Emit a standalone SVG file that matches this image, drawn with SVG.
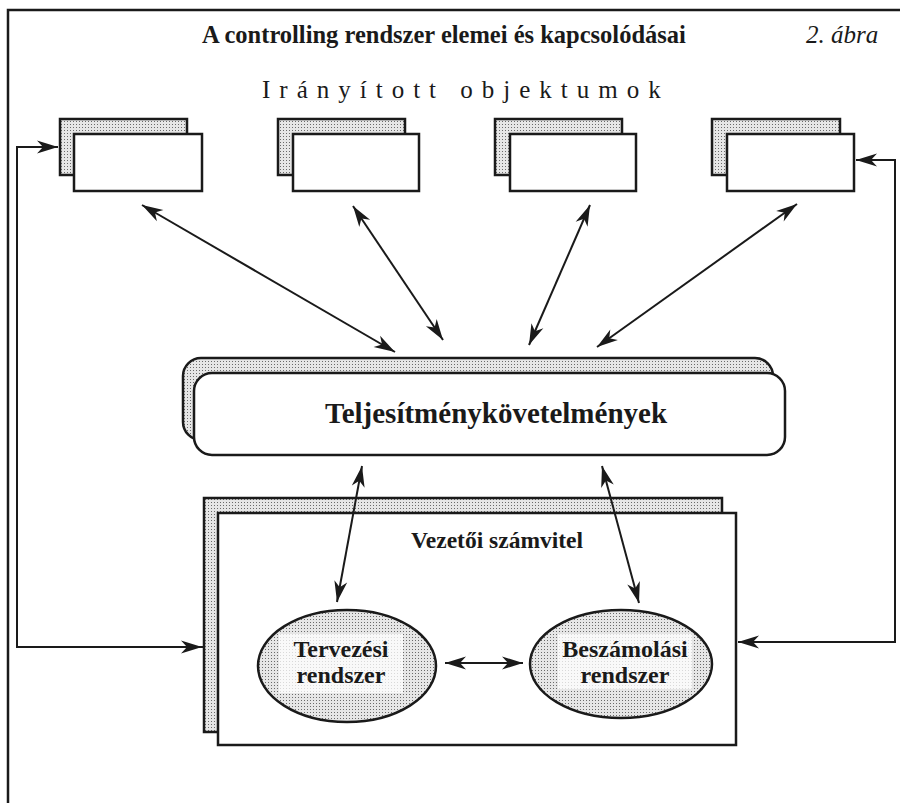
<svg xmlns="http://www.w3.org/2000/svg" width="900" height="803" viewBox="0 0 900 803">
  <defs>
    <!-- stippled grey used for the back sheets and the ellipses -->
    <pattern id="stip" width="3" height="3" patternUnits="userSpaceOnUse">
      <rect width="3" height="3" fill="#e6e6e6"/>
      <rect x="1" y="1" width="1" height="1" fill="#6a6a6a"/>
    </pattern>
    <marker id="ah" markerUnits="userSpaceOnUse" markerWidth="24" markerHeight="16" viewBox="-22 -8 24 16" refX="0" refY="0" orient="auto-start-reverse">
      <path d="M0,0 L-21,-6.5 L-15,0 L-21,6.5 Z" fill="#1a1a1a"/>
    </marker>
    <style>
      .back { fill: url(#stip); stroke: #1a1a1a; stroke-width: 2.5; }
      .front { fill: #ffffff; stroke: #1a1a1a; stroke-width: 2.5; }
      .oval { fill: url(#stip); stroke: #1a1a1a; stroke-width: 2.5; }
      .knock { fill: #ffffff; opacity: 0.75; }
      .conn { fill: none; stroke: #1a1a1a; stroke-width: 2; }
      .two { marker-start: url(#ah); marker-end: url(#ah); }
      .one { marker-end: url(#ah); }
      .serif { font-family: "Liberation Serif", "Times New Roman", serif; fill: #1a1a1a; }
      .b { font-weight: bold; }
    </style>
  </defs>

  <rect width="900" height="803" fill="#ffffff"/>

  <!-- open frame: top and left edges -->
  <path d="M8,803 V10 H900" fill="none" stroke="#1a1a1a" stroke-width="2.5"/>

  <!-- headings -->
  <g id="title">
    <text class="serif b" x="202" y="43" font-size="24.5">A controlling rendszer elemei és kapcsolódásai</text>
    <text class="serif" x="806" y="43" font-size="25" font-style="italic">2. ábra</text>
  </g>
  <g id="objects-label">
    <text class="serif" x="262" y="98" font-size="25" letter-spacing="9">Irányított objektumok</text>
  </g>

  <!-- controlled objects -->
  <g id="obj1">
    <rect class="back" x="60" y="119" width="127" height="56"/>
    <rect class="front" x="74" y="134" width="128" height="57"/>
  </g>
  <g id="obj2">
    <rect class="back" x="278" y="119" width="127" height="56"/>
    <rect class="front" x="293" y="134" width="126" height="57"/>
  </g>
  <g id="obj3">
    <rect class="back" x="495" y="119" width="127" height="56"/>
    <rect class="front" x="510" y="134" width="126" height="57"/>
  </g>
  <g id="obj4">
    <rect class="back" x="712" y="119" width="128" height="56"/>
    <rect class="front" x="727" y="134" width="127" height="57"/>
  </g>

  <!-- performance requirements -->
  <g id="requirements">
    <rect class="back" x="183" y="358" width="590" height="82" rx="18" ry="18"/>
    <rect class="front" x="194" y="373" width="591" height="82" rx="18" ry="18"/>
    <text class="serif b" x="496" y="423" font-size="29" text-anchor="middle">Teljesítménykövetelmények</text>
  </g>

  <!-- management accounting -->
  <g id="accounting">
    <rect class="back" x="204" y="498" width="518" height="234"/>
    <rect class="front" x="218" y="513" width="518" height="232"/>
    <text class="serif b" x="497" y="548" font-size="23.5" text-anchor="middle">Vezetői számvitel</text>
  </g>

  <g id="planning">
    <ellipse class="oval" cx="347" cy="666" rx="89" ry="56"/>
    <rect class="knock" x="279" y="634" width="124" height="59"/>
    <text class="serif b" x="341" y="657" font-size="24" text-anchor="middle">Tervezési</text>
    <text class="serif b" x="341" y="683" font-size="24" text-anchor="middle">rendszer</text>
  </g>

  <g id="reporting">
    <ellipse class="oval" cx="621" cy="664" rx="91" ry="54"/>
    <rect class="knock" x="558" y="634" width="134" height="55"/>
    <text class="serif b" x="625" y="657" font-size="24" text-anchor="middle">Beszámolási</text>
    <text class="serif b" x="625" y="683" font-size="24" text-anchor="middle">rendszer</text>
  </g>

  <!-- connectors -->
  <g id="connectors">
    <line class="conn two" x1="142" y1="205" x2="395" y2="352"/>
    <line class="conn two" x1="353" y1="206" x2="443" y2="340"/>
    <line class="conn two" x1="590" y1="205" x2="529" y2="345"/>
    <line class="conn two" x1="797" y1="204" x2="597" y2="347"/>
    <line class="conn two" x1="362" y1="466" x2="337" y2="602"/>
    <line class="conn two" x1="602" y1="466" x2="639" y2="603"/>
    <line class="conn two" x1="445" y1="663" x2="523" y2="663"/>
    <path class="conn one" d="M203,647 H17 V147 H58" marker-start="none"/>
    <path class="conn one" d="M17,647 H202"/>
    <path class="conn one" d="M855,642 H895 V160 H856"/>
    <path class="conn one" d="M895,642 H738"/>
  </g>
</svg>
